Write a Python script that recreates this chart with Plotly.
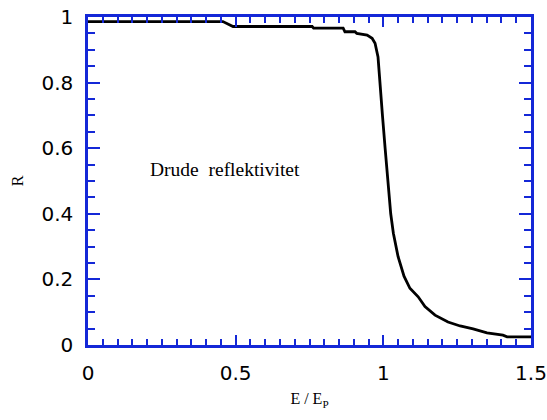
import plotly.graph_objects as go

energy = [0, 0.457, 0.491, 0.759, 0.764, 0.864, 0.87, 0.904, 0.91, 0.945,
          0.962, 0.972, 0.982, 0.990, 0.997, 1.006, 1.019, 1.025, 1.034, 1.050,
          1.07, 1.09, 1.118, 1.141, 1.175, 1.219, 1.26, 1.304, 1.351, 1.405,
          1.419, 1.5]
reflectivity = [0.986, 0.986, 0.971, 0.971, 0.966, 0.966, 0.955, 0.955, 0.950, 0.945,
                0.935, 0.92, 0.878, 0.77, 0.70, 0.60, 0.45, 0.40, 0.341, 0.269,
                0.21, 0.173, 0.147, 0.117, 0.091, 0.07, 0.058, 0.049, 0.037, 0.03,
                0.025, 0.025]

annotation_text = "Drude  reflektivitet"
x_title = "E / E<sub>P</sub>"
y_title = "R"

blue = "rgb(20,40,215)"
serif = "Liberation Serif, DejaVu Serif, serif"
sans = "DejaVu Sans, Verdana, sans-serif"

fig = go.Figure()
fig.add_trace(go.Scatter(x=energy, y=reflectivity, mode="lines",
                         line=dict(color="black", width=2.8),
                         showlegend=False, hoverinfo="skip"))

fig.add_annotation(x=0.464, y=0.534, xref="x", yref="y", text=annotation_text,
                   showarrow=False, font=dict(family=serif, size=19.5, color="black"))

axis_common = dict(
    showline=True, linecolor=blue, linewidth=2.5, mirror="ticks",
    ticks="inside", tickcolor=blue, tickwidth=2,
    showgrid=False, zeroline=False, automargin=False,
    tickfont=dict(family=sans, size=20, color="black"),
)

fig.update_xaxes(range=[0, 1.5], dtick=0.5, tick0=0, ticklen=10,
                 minor=dict(dtick=0.05, ticklen=6, ticks="inside", tickcolor=blue, tickwidth=2, showgrid=False),
                 ticklabelstandoff=8,
                 title=dict(text=x_title, font=dict(family=serif, size=16, color="black"), standoff=10),
                 **axis_common)
fig.update_yaxes(range=[0, 1], dtick=0.2, tick0=0, ticklen=12,
                 minor=dict(dtick=0.05, ticklen=7, ticks="inside", tickcolor=blue, tickwidth=2, showgrid=False),
                 ticklabelstandoff=8,
                 tickformat="~g",
                 title=dict(text=y_title, font=dict(family=serif, size=16, color="black"), standoff=14),
                 **axis_common)

fig.update_layout(width=547, height=420,
                  margin=dict(l=88, r=16, t=17, b=75),
                  paper_bgcolor="white", plot_bgcolor="white")

fig.write_html("out.html")
